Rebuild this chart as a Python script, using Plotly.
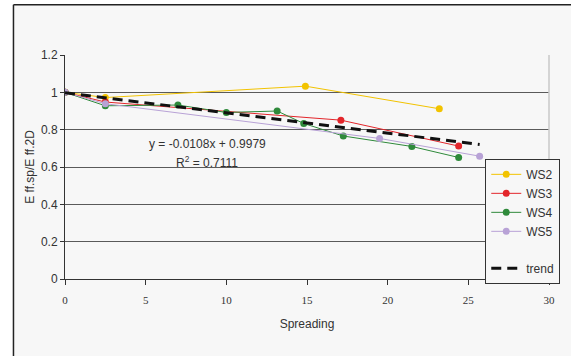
import plotly.graph_objects as go

# ---- data ----
ws2_x = [0, 2.5, 14.9, 23.2]
ws2_y = [1.0, 0.972, 1.033, 0.912]

ws3_x = [0, 2.5, 17.1, 24.4]
ws3_y = [1.0, 0.948, 0.851, 0.712]

ws4_x = [0, 2.5, 7.0, 10.0, 13.15, 14.8, 17.25, 21.5, 24.4]
ws4_y = [1.0, 0.928, 0.932, 0.892, 0.900, 0.833, 0.766, 0.710, 0.651]

ws5_x = [0, 2.5, 19.5, 25.7]
ws5_y = [1.0, 0.939, 0.753, 0.658]

trend_slope = -0.0108
trend_intercept = 0.9979
trend_x = [0, 25.7]
trend_y = [trend_intercept + trend_slope * v for v in trend_x]

x_ticks = [0, 5, 10, 15, 20, 25, 30]
y_ticks = [0, 0.2, 0.4, 0.6, 0.8, 1.0, 1.2]
y_tick_text = ["0", "0.2", "0.4", "0.6", "0.8", "1", "1.2"]

series = [
    ("WS2", ws2_x, ws2_y, "#f2c300"),
    ("WS3", ws3_x, ws3_y, "#e3262b"),
    ("WS4", ws4_x, ws4_y, "#2f8a3b"),
    ("WS5", ws5_x, ws5_y, "#b8a2d6"),
]

fig = go.Figure()
for name, xs, ys, col in series:
    fig.add_trace(go.Scatter(
        x=xs, y=ys, name=name, mode="lines+markers",
        line=dict(color=col, width=1),
        marker=dict(color=col, size=7),
        legendgroup="a",
    ))

fig.add_trace(go.Scatter(
    x=trend_x, y=trend_y, name="trend", mode="lines",
    line=dict(color="#111111", width=3, dash="10px,6px"),
    legendgroup="b",
))

W, H = 571, 356
L, R, T, B = 65, 548.7, 55.3, 279.0
pw, ph = R - L, B - T

def px(x):
    return (x - L) / pw

def py(y):
    return (B - y) / ph

bg = "#f7f7f7"
fig.update_layout(
    width=W, height=H,
    margin=dict(l=L, r=W - R, t=T, b=H - B, pad=0, autoexpand=False),
    paper_bgcolor="white",
    plot_bgcolor=bg,
    font=dict(family="Liberation Sans, Arial", size=12, color="#333333"),
    showlegend=True,
    legend=dict(
        x=px(485), y=py(159), xanchor="left", yanchor="top",
        bgcolor=bg, bordercolor="#333333", borderwidth=1,
        font=dict(size=12, color="#333333"),
        traceorder="grouped", tracegroupgap=18,
        itemwidth=30,
    ),
    xaxis=dict(
        range=[0, 30], tickvals=x_ticks, ticks="outside", ticklen=5,
        tickcolor="#333333", showline=True, linecolor="#333333", linewidth=1,
        showgrid=False, zeroline=False, automargin=False,
        tickfont=dict(family="Liberation Serif, Times New Roman", size=11, color="#333333"),
        ticklabelstandoff=6,
        title=dict(text="Spreading", font=dict(size=12), standoff=14),
    ),
    yaxis=dict(
        range=[0, 1.2], tickvals=y_ticks, ticktext=y_tick_text,
        ticks="outside", ticklen=4, tickcolor="#333333",
        showline=True, linecolor="#333333", linewidth=1,
        showgrid=True, gridcolor="#5a5a5a", gridwidth=1, zeroline=False,
        automargin=False,
        tickfont=dict(size=12, color="#333333"),
        title=dict(text="E ff.sp/E ff.2D", font=dict(size=12), standoff=3),
    ),
    annotations=[
        dict(x=px(207), y=py(144), xref="paper", yref="paper",
             xanchor="center", yanchor="middle",
             text="y = -0.0108x + 0.9979", showarrow=False,
             font=dict(size=12, color="#333333")),
        dict(x=px(207), y=py(162), xref="paper", yref="paper",
             xanchor="center", yanchor="middle",
             text="R<sup>2</sup> = 0.7111", showarrow=False,
             font=dict(size=12, color="#333333")),
    ],
    shapes=[
        # chart area background
        dict(type="rect", xref="paper", yref="paper",
             x0=px(13.5), x1=px(600), y0=py(400), y1=py(5),
             fillcolor=bg, line=dict(width=0), layer="below"),
        # outer border: left and top
        dict(type="line", xref="paper", yref="paper",
             x0=px(13.5), x1=px(13.5), y0=py(400), y1=py(5),
             line=dict(color="#222222", width=1.5)),
        dict(type="line", xref="paper", yref="paper",
             x0=px(13.5), x1=px(600), y0=py(5), y1=py(5),
             line=dict(color="#222222", width=1.5)),
        # plot area right border
        dict(type="line", xref="paper", yref="paper",
             x0=1, x1=1, y0=0, y1=1,
             line=dict(color="#c8c8c8", width=1.5)),
    ],
)

fig.write_html(
    "out.html",
    config={"displayModeBar": False},
    post_script="document.body.style.margin='0';document.body.style.padding='0';",
)
